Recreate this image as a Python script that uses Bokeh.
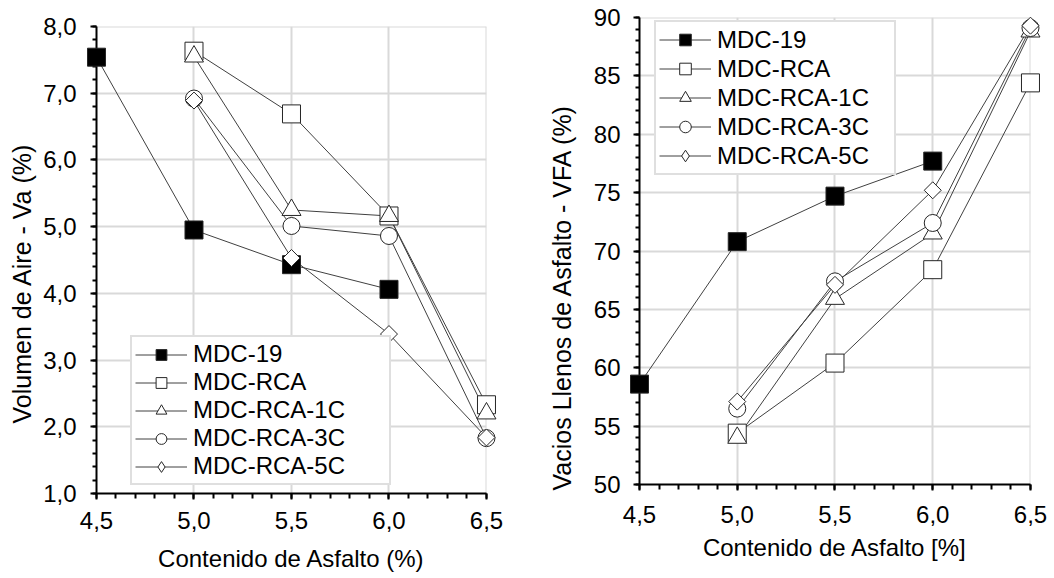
import numpy as np
from bokeh.plotting import figure
from bokeh.layouts import row, column
from bokeh.models import (SingleIntervalTicker, CustomJSTickFormatter, Range1d,
                          Legend, LegendItem, Title)
from bokeh.embed import file_html
from bokeh.resources import INLINE

# ---------------- data ----------------
series_names = ["MDC-19", "MDC-RCA", "MDC-RCA-1C", "MDC-RCA-3C", "MDC-RCA-5C"]
x_mdc19 = [4.5, 5.0, 5.5, 6.0]
x_rca = [5.0, 5.5, 6.0, 6.5]

va_mdc19 = [7.54, 4.95, 4.43, 4.06]
va_rca = [7.63, 6.69, 5.16, 2.33]
va_rca1c = [7.55, 5.25, 5.16, 2.20]
va_rca3c = [6.92, 5.01, 4.86, 1.83]
va_rca5c = [6.89, 4.53, 3.39, 1.84]

vfa_mdc19 = [58.6, 70.8, 74.7, 77.7]
vfa_rca = [54.4, 60.4, 68.4, 84.4]
vfa_rca1c = [54.0, 65.9, 71.5, 88.8]
vfa_rca3c = [56.5, 67.4, 72.4, 89.1]
vfa_rca5c = [57.1, 67.1, 75.2, 89.3]

x_label_va = "Contenido de Asfalto (%)"
y_label_va = "Volumen de Aire - Va (%)"
x_label_vfa = "Contenido de Asfalto [%]"
y_label_vfa = "Vacios Llenos de Asfalto - VFA (%)"

# ---------------- styles ----------------
FONT = "Liberation Sans"
LINE_COLOR = "#404040"
EDGE = "#262626"
styles = [
    dict(marker="square", size=18, fill_color="black", angle=0.0),
    dict(marker="square", size=18, fill_color="white", angle=0.0),
    dict(marker="triangle", size=19, fill_color="white", angle=0.0),
    dict(marker="circle", size=17, fill_color="white", angle=0.0),
    dict(marker="square", size=12, fill_color="white", angle=np.pi / 4),
]

comma_fmt = CustomJSTickFormatter(code="return tick.toFixed(1).replace('.', ',');")


def make_fig(width, height, y0, y1, ystep, yfmt, borders, xlabel, ylabel,
             ystand, xtick_stand, xlab_stand, title_offset, title_standoff):
    p = figure(width=width, height=height, output_backend="svg", toolbar_location=None,
               x_range=Range1d(4.5, 6.5 + 0.0001),
               y_range=Range1d(y0, y1 + 0.0001 * ystep))
    p.min_border_left = borders[0]
    p.min_border_right = borders[1]
    p.min_border_top = borders[2]
    p.min_border_bottom = borders[3]
    p.outline_line_color = None
    p.background_fill_color = "white"
    p.border_fill_color = "white"

    p.xaxis.ticker = SingleIntervalTicker(interval=0.5, num_minor_ticks=5)
    p.yaxis.ticker = SingleIntervalTicker(interval=ystep, num_minor_ticks=5)
    p.xaxis.formatter = comma_fmt
    if yfmt is not None:
        p.yaxis.formatter = yfmt
    p.xaxis.bounds = (4.5, 6.5)
    for ax in (p.xaxis[0], p.yaxis[0]):
        ax.axis_line_color = "black"
        ax.axis_line_width = 2
        ax.major_tick_line_color = "black"
        ax.major_tick_line_width = 2
        ax.minor_tick_line_color = "black"
        ax.minor_tick_line_width = 2
        ax.major_tick_out = 6
        ax.major_tick_in = 0
        ax.minor_tick_in = 0
        ax.major_label_text_font = FONT
        ax.major_label_text_font_size = "24px"
        ax.major_label_text_color = "black"
        ax.axis_label_text_font = FONT
        ax.axis_label_text_font_size = "24px"
        ax.axis_label_text_font_style = "normal"
        ax.axis_label_text_color = "black"
    p.xaxis.minor_tick_out = 5
    p.yaxis.minor_tick_out = 4
    p.xaxis.axis_label = xlabel
    p.yaxis.major_label_standoff = ystand
    p.xaxis.major_label_standoff = xtick_stand
    p.xaxis.axis_label_standoff = xlab_stand

    # y-axis title, placed along the axis as in the reference
    t = Title(text=ylabel, align="left", offset=title_offset, standoff=title_standoff,
              text_font=FONT, text_font_size="25px", text_font_style="normal",
              text_color="black")
    p.add_layout(t, "left")

    p.grid.grid_line_color = "#d9d9d9"
    p.grid.grid_line_width = 2
    return p


def add_series(p, xs_list, ys_list):
    items = []
    for name, xs, ys, st in zip(series_names, xs_list, ys_list, styles):
        rl = p.line(xs, ys, line_color=LINE_COLOR, line_width=1)
        proxy = None
        if st["angle"] != 0.0:
            # diamond used by the legend (legend markers ignore angle); hidden under the rotated square
            proxy = p.scatter(xs, ys, marker="diamond", size=13, fill_color="white",
                              line_color=EDGE, line_width=1, level="annotation")
        # markers sit on top of the axes (as in the reference), so they are not cut at the frame edge
        rs = p.scatter(xs, ys, marker=st["marker"], size=st["size"], angle=st["angle"],
                       fill_color=st["fill_color"], line_color=EDGE, line_width=1,
                       level="annotation")
        items.append(LegendItem(label=name, renderers=[rl, proxy if proxy is not None else rs]))
    return items


def add_legend(p, items, loc, glyph_h, label_w):
    lg = Legend(items=items, location=loc)
    lg.background_fill_color = "white"
    lg.background_fill_alpha = 1.0
    lg.border_line_color = "#bfbfbf"
    lg.border_line_width = 2
    lg.padding = 3
    lg.margin = 0
    lg.spacing = 0
    lg.glyph_width = 52
    lg.glyph_height = glyph_h
    lg.label_height = glyph_h
    lg.label_standoff = 6
    lg.label_width = label_w
    lg.label_text_font = FONT
    lg.label_text_font_size = "24px"
    lg.label_text_color = "black"
    lg.label_text_line_height = 1.0
    p.add_layout(lg, "center")


# left chart: frame x 95..486, y 26..493
p1 = make_fig(530, 578, 1.0, 8.0, 1.0, comma_fmt, (95, 44, 26, 85),
              x_label_va, y_label_va,
              ystand=14, xtick_stand=12, xlab_stand=13, title_offset=70, title_standoff=10)
items1 = add_series(p1, [x_mdc19, x_rca, x_rca, x_rca, x_rca],
                    [va_mdc19, va_rca, va_rca1c, va_rca3c, va_rca5c])
add_legend(p1, items1, (34, 8), 27, 193)

# right chart: frame x 637..1030, y 17..484
p2 = make_fig(524, 578, 50.0, 90.0, 5.0, None, (107, 24, 17, 94),
              x_label_vfa, y_label_vfa,
              ystand=13, xtick_stand=15, xlab_stand=8, title_offset=-6, title_standoff=30)
items2 = add_series(p2, [x_mdc19, x_rca, x_rca, x_rca, x_rca],
                    [vfa_mdc19, vfa_rca, vfa_rca1c, vfa_rca3c, vfa_rca5c])
add_legend(p2, items2, (15, 309), 29, 174)

layout = row(column(p1), column(p2), spacing=0)
open("out.html", "w").write(file_html(layout, INLINE))
